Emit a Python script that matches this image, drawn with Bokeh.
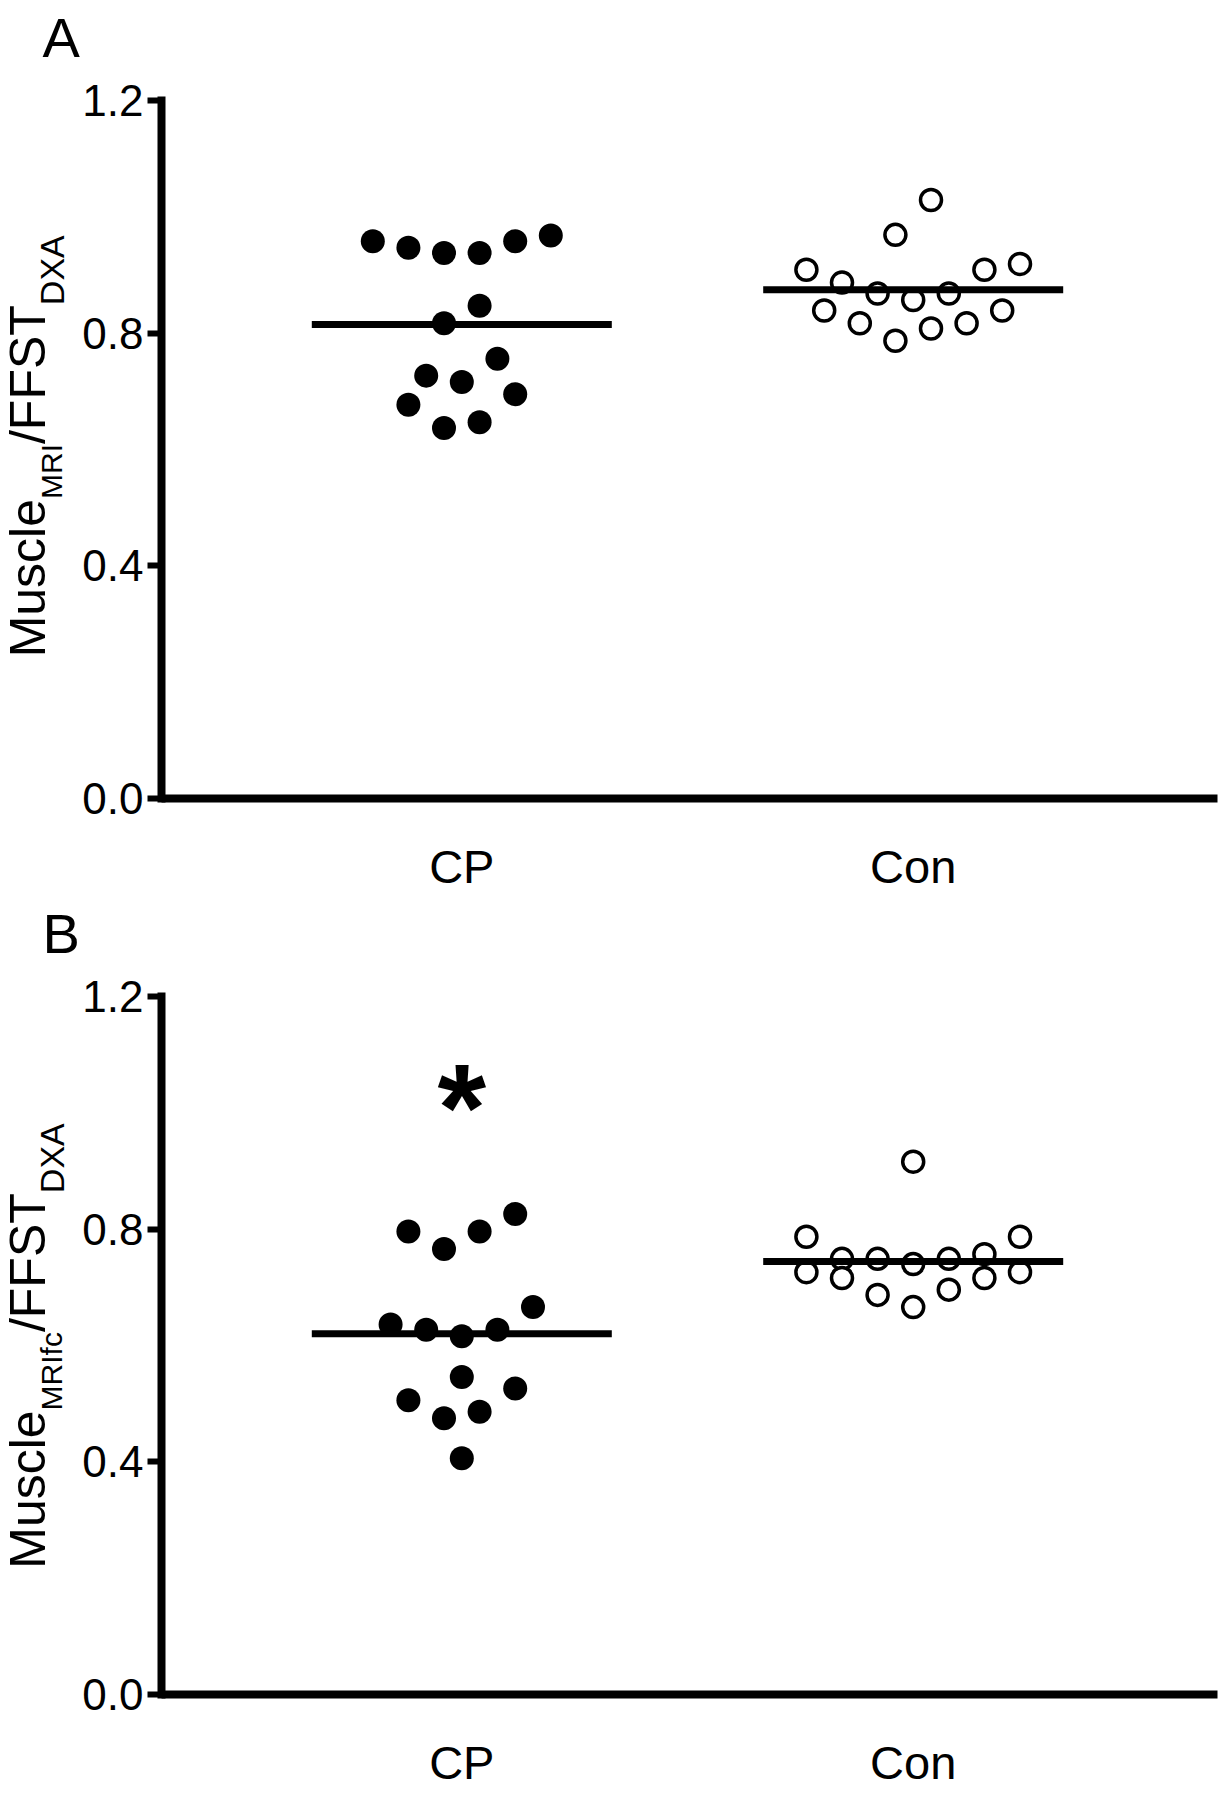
import numpy as np
from bokeh.plotting import figure
from bokeh.models import Label, FixedTicker, Range1d
from bokeh.layouts import column
from bokeh.embed import file_html
from bokeh.resources import INLINE

# ---------------- data ----------------
groups = ["CP", "Con"]
group_pos = [1, 2]

# Panel A: Muscle_MRI / FFST_DXA
cp_a = [0.968, 0.958, 0.938, 0.938, 0.947, 0.958, 0.847, 0.817,
        0.756, 0.727, 0.716, 0.695, 0.677, 0.637, 0.647]
con_a = [1.029, 0.969, 0.909, 0.887, 0.868, 0.857, 0.868, 0.909,
         0.919, 0.839, 0.817, 0.787, 0.808, 0.817, 0.839]

# Panel B: Muscle_MRIfc / FFST_DXA
cp_b = [0.796, 0.766, 0.796, 0.826, 0.666, 0.636, 0.627, 0.616,
        0.627, 0.546, 0.526, 0.506, 0.486, 0.475, 0.406]
con_b = [0.916, 0.787, 0.787, 0.749, 0.749, 0.740, 0.749, 0.757,
         0.726, 0.716, 0.696, 0.666, 0.687, 0.716, 0.726]

y_ticks = [0.0, 0.4, 0.8, 1.2]
y_tick_labels = ["0.0", "0.4", "0.8", "1.2"]

ylabel_a = [("Muscle", "main"), ("MRI", "sub1"), ("/FFST", "main"), ("DXA", "sub2")]
ylabel_b = [("Muscle", "main"), ("MRIfc", "sub1"), ("/FFST", "main"), ("DXA", "sub2")]
panel_letters = ["A", "B"]
star_text = "*"

# ---------------- layout constants ----------------
W = 1219
FL, FR = 161, 1217        # axis box left / right (px)
FT, FB = 100, 798         # y = 1.2 / y = 0 (px, from the figure top)
PX_PER_UNIT = 451.4       # horizontal px per x unit
X_AT_FL = 1 - (461.3 - FL) / PX_PER_UNIT
STEP = 35.6 / PX_PER_UNIT  # swarm column spacing
ROW_H = 0.066              # swarm row height (y units)
HALF_LINE = 150 / PX_PER_UNIT
FONT = "Liberation Sans"

ARIAL = {'M': 833, 'u': 556, 's': 500, 'c': 500, 'l': 222, 'e': 556, 'R': 722,
         'I': 278, '/': 278, 'F': 611, 'S': 667, 'T': 611, 'D': 722, 'X': 667,
         'A': 667, 'f': 278}


def text_width(s, size):
    return sum(ARIAL[ch] for ch in s) / 1000.0 * size


def px_x(px):
    return X_AT_FL + (px - FL) / PX_PER_UNIT


def px_y(py):
    return (FB - py) * 1.2 / (FB - FT)


def swarm_offsets(values, row_h, step):
    order = sorted(range(len(values)), key=lambda i: values[i])
    rows = []
    for i in order:
        if rows and values[i] - values[rows[-1][0]] <= row_h:
            rows[-1].append(i)
        else:
            rows.append([i])
    offs = [0.0] * len(values)
    for row in rows:
        n = len(row)
        if n % 2:
            slots = [0] + [s * k for k in range(1, n) for s in (-1, 1)]
        else:
            slots = [s * (k + 0.5) for k in range(n) for s in (-1, 1)]
        for i, sl in zip(row, slots):
            offs[i] = sl * step
    return offs


def make_panel(cp_vals, con_vals, ylabel_parts, letter, height, label_center,
               star=False):
    p = figure(width=W, height=height, output_backend="svg", toolbar_location=None,
               x_range=Range1d(px_x(0), px_x(W)),
               y_range=Range1d(px_y(height), px_y(0)),
               min_border=0)
    p.outline_line_color = None
    p.grid.visible = False
    p.background_fill_color = "white"
    p.border_fill_color = "white"

    # points
    for gx, vals, filled in ((group_pos[0], cp_vals, True), (group_pos[1], con_vals, False)):
        offs = swarm_offsets(vals, ROW_H, STEP)
        xs = [gx + o for o in offs]
        if filled:
            p.scatter(xs, vals, marker="circle", size=24, fill_color="black",
                      line_color=None)
        else:
            p.scatter(xs, vals, marker="circle", size=21, fill_color="white",
                      line_color="black", line_width=3.5)
        m = float(np.mean(vals))
        p.segment(x0=[gx - HALF_LINE], x1=[gx + HALF_LINE], y0=[m], y1=[m],
                  line_color="black", line_width=7, line_cap="butt")

    # y axis (placed inside the canvas at a fixed location)
    ya = p.yaxis[0]
    ya.fixed_location = px_x(FL)
    ya.bounds = (y_ticks[0], y_ticks[-1])
    ya.ticker = FixedTicker(ticks=y_ticks)
    ya.major_label_overrides = dict(zip(y_ticks, y_tick_labels))
    ya.axis_line_width = 8
    ya.axis_line_cap = "square"
    ya.major_tick_line_width = 6
    ya.major_tick_out = 14
    ya.major_tick_in = 0
    ya.minor_tick_line_color = None
    ya.major_label_standoff = 4
    ya.major_label_text_font = FONT
    ya.major_label_text_font_size = "44px"
    ya.major_label_text_color = "black"

    # x axis
    xa = p.xaxis[0]
    xa.fixed_location = 0
    xa.bounds = (px_x(FL), px_x(FR))
    xa.ticker = FixedTicker(ticks=group_pos)
    xa.major_label_overrides = dict(zip(group_pos, groups))
    xa.axis_line_width = 8
    xa.axis_line_cap = "butt"
    xa.major_tick_line_color = None
    xa.major_tick_out = 0
    xa.major_tick_in = 0
    xa.minor_tick_line_color = None
    xa.major_label_standoff = 41
    xa.major_label_text_font = FONT
    xa.major_label_text_font_size = "47px"
    xa.major_label_text_color = "black"

    # rotated y-axis label built from pieces (main + subscripts)
    sizes = {"main": 50, "sub1": 30, "sub2": 34}
    base = {"main": 27, "sub1": 51, "sub2": 51}
    total = sum(text_width(t, sizes[k]) for t, k in ylabel_parts)
    pos = label_center + total / 2.0          # px from figure top (text start)
    for t, k in ylabel_parts:
        p.add_layout(Label(x=px_x(base[k]), y=px_y(pos), text=t,
                           angle=np.pi / 2, angle_units="rad",
                           text_font=FONT, text_font_size=f"{sizes[k]}px",
                           text_align="left", text_baseline="alphabetic",
                           text_color="black"))
        pos -= text_width(t, sizes[k])

    # panel letter
    p.add_layout(Label(x=px_x(42), y=px_y(37), text=letter, text_font=FONT,
                       text_font_size="56px", text_align="left",
                       text_baseline="alphabetic", text_color="black"))

    if star:
        p.add_layout(Label(x=group_pos[0], y=1.010, text=star_text,
                           text_font=FONT, text_font_style="bold",
                           text_font_size="125px", text_align="center",
                           text_baseline="alphabetic", text_color="black"))
    return p


pa = make_panel(cp_a, con_a, ylabel_a, panel_letters[0], 896, 445.8)
pb = make_panel(cp_b, con_b, ylabel_b, panel_letters[1], 904, 449.5, star=True)

layout = column(pa, pb, spacing=0)
open("out.html", "w").write(file_html(layout, INLINE))
